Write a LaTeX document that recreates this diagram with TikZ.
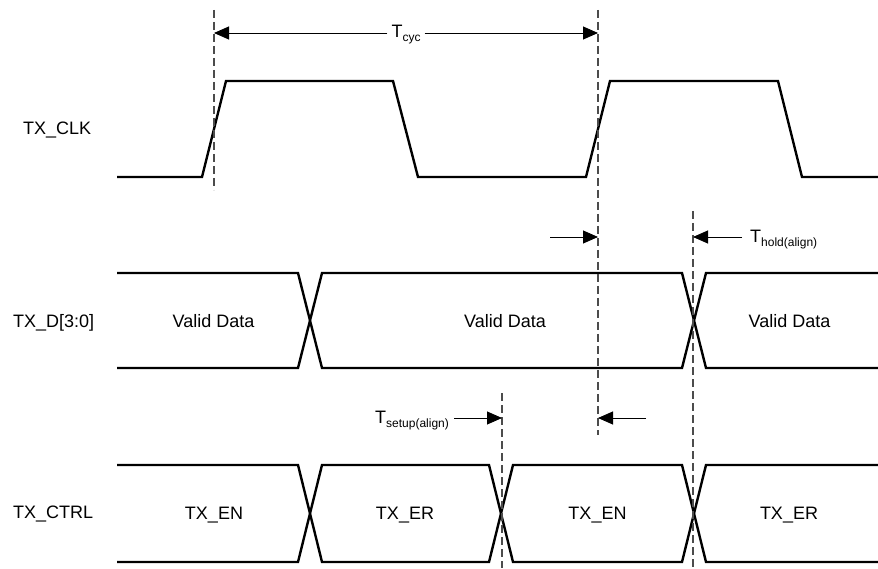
\documentclass[tikz,border=0pt]{standalone}
\usepackage{fontspec}
\setmainfont{Liberation Sans}
\usetikzlibrary{arrows.meta}
\newcommand{\subtxt}[1]{\raisebox{-4pt}{\fontsize{12}{12}\selectfont #1}}
\begin{document}
\begin{tikzpicture}[x=1pt,y=-1pt,
  sig/.style={line width=2.4pt,line join=miter},
  guide/.style={line width=1.2pt,draw=black!70,dash pattern=on 8pt off 4pt},
  dim/.style={line width=0.9pt,-{Triangle[length=15pt,width=13pt]}},
  lbl/.style={font=\fontsize{18}{20}\selectfont,inner sep=0pt},
  sublbl/.style={font=\fontsize{18}{20}\selectfont,inner sep=0pt}]
\useasboundingbox (0,0) rectangle (878,569);
% signal labels
\node[lbl,anchor=base west] (lclk) at (23,135) {TX\_CLK};
\node[lbl,anchor=base west] (ld) at (13,327) {TX\_D[3:0]};
\node[lbl,anchor=base west] (lctrl) at (13,518) {TX\_CTRL};
% clock
\draw[sig] (117,177)--(202,177)--(226,81)--(393,81)--(418,177)--(586,177)--(610,81)--(778,81)--(802,177)--(878,177);
% data bus
\draw[sig] (117,273)--(298,273)--(322,368)--(682,368)--(706,273)--(878,273);
\draw[sig] (117,368)--(298,368)--(322,273)--(682,273)--(706,368)--(878,368);
\node[lbl,anchor=base] (d1) at (213.5,327) {Valid Data};
\node[lbl,anchor=base] (d2) at (505,327) {Valid Data};
\node[lbl,anchor=base] (d3) at (789.5,327) {Valid Data};
% control bus
\draw[sig] (117,465)--(298,465)--(322,562)--(489,562)--(513,465)--(682,465)--(706,562)--(878,562);
\draw[sig] (117,562)--(298,562)--(322,465)--(489,465)--(513,562)--(682,562)--(706,465)--(878,465);
\node[lbl,anchor=base] (c1) at (214,519) {TX\_EN};
\node[lbl,anchor=base] (c2) at (405,519) {TX\_ER};
\node[lbl,anchor=base] (c3) at (597.5,519) {TX\_EN};
\node[lbl,anchor=base] (c4) at (789,519) {TX\_ER};
% guide lines
\coordinate (g1t) at (214,10);  \coordinate (g1b) at (214,190);
\coordinate (g2t) at (598,10);  \coordinate (g2b) at (598,435);
\coordinate (g3t) at (693,211); \coordinate (g3b) at (693,568);
\coordinate (g4t) at (502,393); \coordinate (g4b) at (502,568);
\draw[guide] (g1t)--(g1b);
\draw[guide] (g2t)--(g2b);
\draw[guide] (g3t)--(g3b);
\draw[guide] (g4t)--(g4b);
% T_cyc
\coordinate (cycL) at (214,33);
\coordinate (cycR) at (598,33);
\node[sublbl,anchor=base,inner xsep=4pt] (tcyc) at (406,38) {T\subtxt{cyc}};
\draw[dim] (tcyc.west |- cycL) -- (cycL);
\draw[dim] (tcyc.east |- cycR) -- (cycR);
% T_hold
\coordinate (hL0) at (550,237); \coordinate (hL1) at (598,237);
\coordinate (hR0) at (742,237); \coordinate (hR1) at (693,237);
\draw[dim] (hL0)--(hL1);
\draw[dim] (hR0)--(hR1);
\node[sublbl,anchor=base west] (thold) at (750,243) {T\subtxt{hold(align)}};
% T_setup
\coordinate (sL0) at (454,418); \coordinate (sL1) at (502,418);
\coordinate (sR0) at (646,418); \coordinate (sR1) at (598,418);
\draw[dim] (sL0)--(sL1);
\draw[dim] (sR0)--(sR1);
\node[sublbl,anchor=base west] (tsetup) at (375,423) {T\subtxt{setup(align)}};
\end{tikzpicture}
\end{document}
